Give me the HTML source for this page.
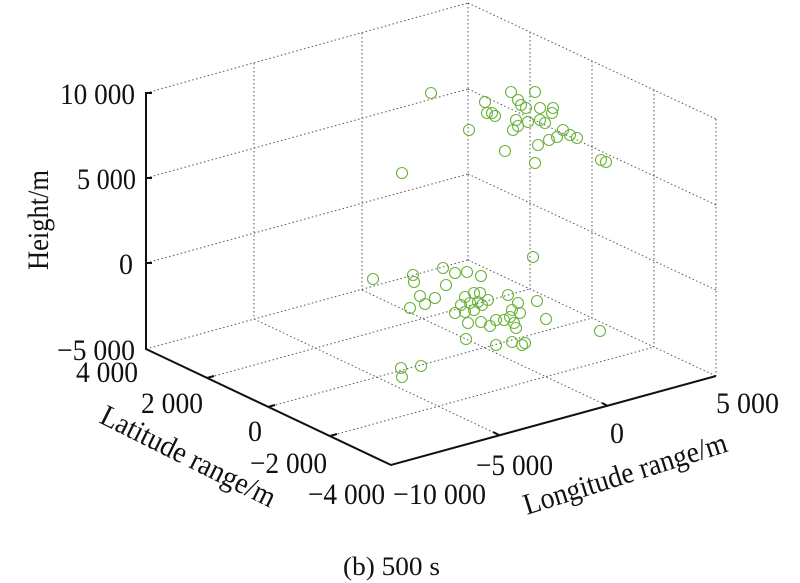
<!DOCTYPE html>
<html><head><meta charset="utf-8"><style>
body{margin:0;background:#fff}
svg{display:block}
text{font-family:"Liberation Serif",serif;fill:#111;font-size:30px}
</style></head><body>
<svg width="800" height="583" viewBox="0 0 800 583">
<g stroke="#555" stroke-width="1" stroke-dasharray="1.5,2.5" fill="none">
<line x1="146" y1="93" x2="468" y2="3"/>
<line x1="146" y1="178" x2="468" y2="89"/>
<line x1="146" y1="263" x2="468" y2="174"/>
<line x1="146" y1="349" x2="468" y2="260"/>
<line x1="254" y1="63" x2="254" y2="319"/>
<line x1="362" y1="33" x2="362" y2="290"/>
<line x1="468" y1="3" x2="468" y2="260"/>
<line x1="468" y1="3" x2="716" y2="119"/>
<line x1="468" y1="89" x2="716" y2="205"/>
<line x1="468" y1="174" x2="716" y2="290"/>
<line x1="716" y1="119" x2="716" y2="376"/>
<line x1="530" y1="32" x2="530" y2="289"/>
<line x1="592" y1="61" x2="592" y2="318"/>
<line x1="654" y1="90" x2="654" y2="347"/>
<line x1="468" y1="260" x2="716" y2="376"/>
<line x1="254" y1="319" x2="499" y2="435"/>
<line x1="362" y1="290" x2="608" y2="406"/>
<line x1="207" y1="378" x2="530" y2="289"/>
<line x1="268" y1="407" x2="592" y2="318"/>
<line x1="330" y1="436" x2="654" y2="347"/>
</g>
<g stroke="#111" stroke-width="2" fill="none">
<polyline points="152,93 146,93 146,349 391,465 716,376"/>
<line x1="146" y1="178" x2="152" y2="178"/>
<line x1="146" y1="263" x2="152" y2="263"/>
<line x1="207" y1="378" x2="214" y2="376"/>
<line x1="268" y1="407" x2="275" y2="405"/>
<line x1="330" y1="436" x2="337" y2="434"/>
<line x1="499" y1="435" x2="493" y2="432"/>
<line x1="608" y1="406" x2="602" y2="403"/>
</g>
<g stroke="#6ab33a" stroke-width="1.1" fill="none">
<circle cx="431" cy="93" r="5.5"/><circle cx="402" cy="173" r="5.5"/><circle cx="469" cy="130" r="5.5"/>
<circle cx="485" cy="102" r="5.5"/><circle cx="487" cy="113" r="5.5"/><circle cx="492" cy="113" r="5.5"/>
<circle cx="511" cy="92" r="5.5"/><circle cx="535" cy="92" r="5.5"/><circle cx="518" cy="100" r="5.5"/>
<circle cx="521" cy="105" r="5.5"/><circle cx="526" cy="108" r="5.5"/><circle cx="540" cy="108" r="5.5"/>
<circle cx="553" cy="108" r="5.5"/><circle cx="552" cy="113" r="5.5"/><circle cx="495" cy="116" r="5.5"/>
<circle cx="516" cy="120" r="5.5"/><circle cx="518" cy="126" r="5.5"/><circle cx="513" cy="130" r="5.5"/>
<circle cx="540" cy="120" r="5.5"/><circle cx="545" cy="123" r="5.5"/><circle cx="528" cy="122" r="5.5"/>
<circle cx="505" cy="151" r="5.5"/><circle cx="538" cy="145" r="5.5"/><circle cx="535" cy="163" r="5.5"/>
<circle cx="549" cy="140" r="5.5"/><circle cx="557" cy="137" r="5.5"/><circle cx="563" cy="130" r="5.5"/>
<circle cx="570" cy="135" r="5.5"/><circle cx="577" cy="138" r="5.5"/><circle cx="601" cy="160" r="5.5"/>
<circle cx="606" cy="162" r="5.5"/>
<circle cx="533" cy="257" r="5.5"/><circle cx="373" cy="279" r="5.5"/><circle cx="413" cy="275" r="5.5"/>
<circle cx="414" cy="282" r="5.5"/><circle cx="443" cy="268" r="5.5"/><circle cx="455" cy="273" r="5.5"/>
<circle cx="467" cy="272" r="5.5"/><circle cx="481" cy="276" r="5.5"/><circle cx="446" cy="285" r="5.5"/>
<circle cx="420" cy="296" r="5.5"/><circle cx="425" cy="304" r="5.5"/><circle cx="435" cy="298" r="5.5"/>
<circle cx="410" cy="308" r="5.5"/><circle cx="465" cy="297" r="5.5"/><circle cx="474" cy="293" r="5.5"/>
<circle cx="480" cy="293" r="5.5"/><circle cx="478" cy="302" r="5.5"/><circle cx="470" cy="303" r="5.5"/>
<circle cx="482" cy="305" r="5.5"/><circle cx="488" cy="300" r="5.5"/><circle cx="461" cy="305" r="5.5"/>
<circle cx="455" cy="313" r="5.5"/><circle cx="465" cy="312" r="5.5"/><circle cx="474" cy="310" r="5.5"/>
<circle cx="508" cy="295" r="5.5"/><circle cx="537" cy="301" r="5.5"/><circle cx="518" cy="303" r="5.5"/>
<circle cx="512" cy="310" r="5.5"/><circle cx="520" cy="313" r="5.5"/><circle cx="510" cy="317" r="5.5"/>
<circle cx="468" cy="323" r="5.5"/><circle cx="481" cy="322" r="5.5"/><circle cx="490" cy="326" r="5.5"/>
<circle cx="496" cy="320" r="5.5"/><circle cx="504" cy="320" r="5.5"/><circle cx="514" cy="323" r="5.5"/>
<circle cx="516" cy="328" r="5.5"/><circle cx="546" cy="319" r="5.5"/><circle cx="600" cy="331" r="5.5"/>
<circle cx="466" cy="339" r="5.5"/><circle cx="496" cy="345" r="5.5"/><circle cx="512" cy="342" r="5.5"/>
<circle cx="522" cy="345" r="5.5"/><circle cx="525" cy="343" r="5.5"/><circle cx="401" cy="368" r="5.5"/>
<circle cx="421" cy="366" r="5.5"/><circle cx="402" cy="377" r="5.5"/>
</g>
<text x="60" y="104" textLength="75" lengthAdjust="spacingAndGlyphs">10 000</text>
<text x="77" y="189" textLength="59" lengthAdjust="spacingAndGlyphs">5 000</text>
<text x="119" y="274" textLength="14" lengthAdjust="spacingAndGlyphs">0</text>
<text x="57" y="360" textLength="78" lengthAdjust="spacingAndGlyphs">−5 000</text>
<text x="76" y="382" textLength="62" lengthAdjust="spacingAndGlyphs">4 000</text>
<text x="141" y="413" textLength="62" lengthAdjust="spacingAndGlyphs">2 000</text>
<text x="248" y="441" textLength="14" lengthAdjust="spacingAndGlyphs">0</text>
<text x="250" y="473" textLength="77" lengthAdjust="spacingAndGlyphs">−2 000</text>
<text x="308" y="504" textLength="77" lengthAdjust="spacingAndGlyphs">−4 000</text>
<text x="393" y="504" textLength="93" lengthAdjust="spacingAndGlyphs">−10 000</text>
<text x="476" y="475" textLength="77" lengthAdjust="spacingAndGlyphs">−5 000</text>
<text x="610" y="443" textLength="14" lengthAdjust="spacingAndGlyphs">0</text>
<text x="716" y="413" textLength="63" lengthAdjust="spacingAndGlyphs">5 000</text>
<text x="0" y="0" text-anchor="middle" textLength="100" lengthAdjust="spacingAndGlyphs" transform="translate(48,220) rotate(-90)">Height/m</text>
<text x="0" y="0" text-anchor="middle" textLength="192" lengthAdjust="spacingAndGlyphs" transform="translate(184,465) rotate(26.5)">Latitude range/m</text>
<text x="0" y="0" text-anchor="middle" textLength="212" lengthAdjust="spacingAndGlyphs" transform="translate(628,483) rotate(-17.5)">Longitude range/m</text>
<text x="343" y="575" textLength="97" lengthAdjust="spacingAndGlyphs" style="font-size:26px">(b) 500 s</text>
</svg>
</body></html>
